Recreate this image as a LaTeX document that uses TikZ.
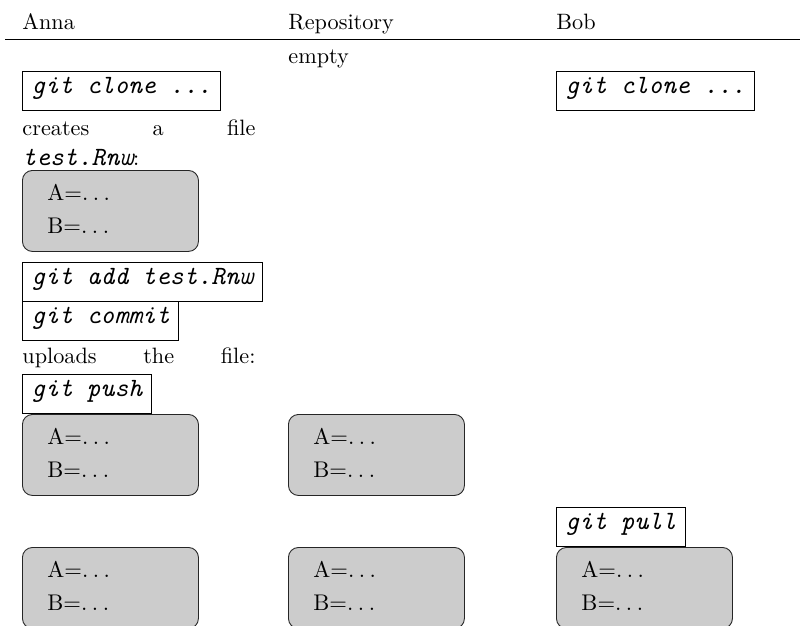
\documentclass[tikz,border=0pt]{standalone}
\newcommand{\gitcmd}[1]{{\fontsize{11.87}{13.5}\selectfont\ttfamily\itshape #1}}
\newcommand{\spdots}{.\kern.2em.\kern.2em.}
\tikzset{
  cmdbox/.style={draw, anchor=north west, inner xsep=4.05pt, inner ysep=0pt, text height=10.1pt, text depth=7.4pt, font=\fontsize{11.87}{13.5}\selectfont\ttfamily\itshape},
  filebox/.style={draw=black!85, fill=black!20, rounded corners=4.5pt, anchor=north west, align=left, text width=56.7pt, inner xsep=11.25pt, inner ysep=0pt, text height=13.5pt, text depth=22.95pt, font=\fontsize{10.2}{14.85}\selectfont},
  celltext/.style={anchor=base west, inner sep=0pt},
  cellpar/.style={anchor=base west, inner sep=0pt, text width=104.85pt, align=left}
}
\begin{document}
\begin{tikzpicture}[x=0.45pt, y=-0.45pt, line width=0.4pt, font=\fontsize{10}{13.5}\selectfont]
  \useasboundingbox (0,0) rectangle (800,625);
  \clip (0,0) rectangle (800,625);
  \node[celltext] (hAnna) at (22,29) {Anna};
  \node[celltext] (hRepo) at (288,29) {Repository};
  \node[celltext] (hBob) at (556,29) {Bob};
  \coordinate (ruleL) at (5,39.5); \coordinate (ruleR) at (800,39.5);
  \draw[line width=0.5pt] (ruleL) -- (ruleR);
  \node[celltext] (empty) at (288,63) {empty};
  \node[cmdbox] (cloneA) at (22,71) {git clone ...};
  \node[cmdbox] (cloneB) at (556,71) {git clone ...};
  \node[cellpar] (creates) at (22,135) {creates\hfill a\hfill file\\\gitcmd{test.Rnw}:};
  \node[filebox] (fileA1) at (22,170) {A=\spdots\\B=\spdots};
  \node[cmdbox] (add) at (22,262) {git add test.Rnw};
  \node[cmdbox] (commit) at (22,301) {git commit};
  \node[cellpar] (uploads) at (22,363) {uploads\hfill the\hfill file:};
  \node[cmdbox] (push) at (22,374) {git push};
  \node[filebox] (fileA2) at (22,414) {A=\spdots\\B=\spdots};
  \node[filebox] (fileR2) at (288,414) {A=\spdots\\B=\spdots};
  \node[cmdbox] (pull) at (556,507) {git pull};
  \node[filebox] (fileA3) at (22,547) {A=\spdots\\B=\spdots};
  \node[filebox] (fileR3) at (288,547) {A=\spdots\\B=\spdots};
  \node[filebox] (fileB3) at (556,547) {A=\spdots\\B=\spdots};
\end{tikzpicture}
\end{document}
